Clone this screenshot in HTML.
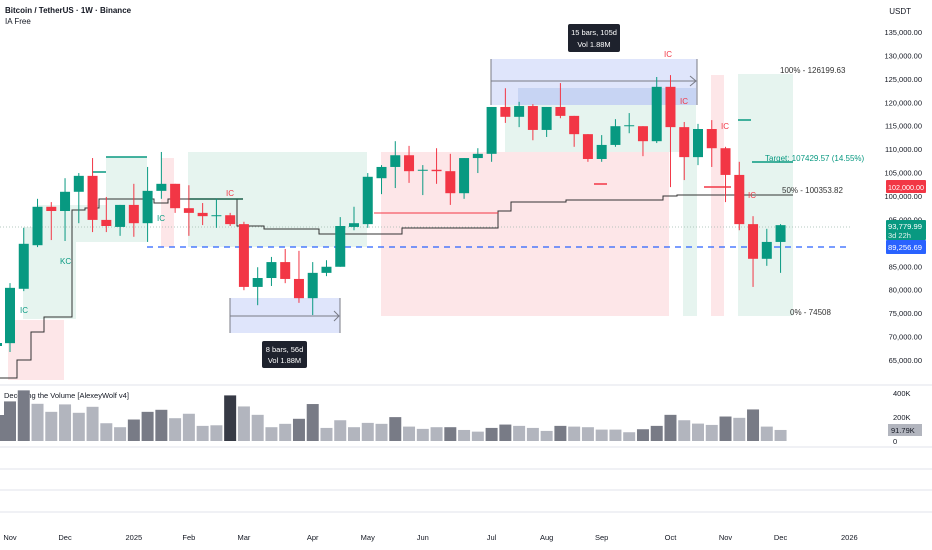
<!DOCTYPE html>
<html><head><meta charset="utf-8">
<style>
html,body{margin:0;padding:0;background:#fff;}
svg{display:block;font-family:"Liberation Sans",sans-serif;}
</style></head>
<body>
<svg id="chart" width="932" height="550" viewBox="0 0 932 550" xmlns="http://www.w3.org/2000/svg">
<g id="bg">
  <rect x="8" y="320" width="56" height="60" fill="#fde6e8"/>
  <rect x="23" y="227" width="53" height="92" fill="#e6f4ef"/>
  <rect x="37" y="205" width="110" height="37" fill="#e6f4ef"/>
  <rect x="106" y="157" width="41" height="48" fill="#e6f4ef"/>
  <rect x="161" y="158" width="13" height="89" fill="#fde6e8"/>
  <rect x="188" y="152" width="179" height="95" fill="#e6f4ef"/>
  <rect x="381" y="152" width="288" height="164" fill="#fde6e8"/>
  <rect x="505" y="105" width="191" height="47" fill="#e6f4ef"/>
  <rect x="683" y="150" width="14" height="166" fill="#e6f4ef"/>
  <rect x="711" y="75" width="13" height="241" fill="#fde6e8"/>
  <rect x="738" y="74" width="55" height="242" fill="#e6f4ef"/>
  <rect x="491" y="59" width="206" height="46" fill="#dfe5fb"/>
  <rect x="518" y="88" width="178" height="17" fill="#c7d4f3"/>
  <rect x="230" y="298" width="110" height="35" fill="#dfe5fb"/>
</g>
<g stroke="#787b86" fill="none" stroke-width="1">
  <line x1="491" y1="59" x2="491" y2="105"/><line x1="697" y1="59" x2="697" y2="105"/>
  <line x1="491" y1="81" x2="696" y2="81"/><polyline points="690,76 696,81 690,86"/>
  <line x1="230" y1="298" x2="230" y2="333"/><line x1="340" y1="298" x2="340" y2="333"/>
  <line x1="230" y1="316" x2="339" y2="316"/><polyline points="334,311 339,316 334,321"/>
</g>
<line x1="0" y1="227" x2="850" y2="227" stroke="#9fb8ae" stroke-width="0.8" stroke-dasharray="1,2"/>
<line x1="147" y1="247" x2="850" y2="247" stroke="#2962ff" stroke-width="1.2" stroke-dasharray="6,5"/>
<polyline fill="none" stroke="#333" stroke-width="1" points="0,378 17,378 17,360 31,360 31,332 44,332 44,317 72,317 72,210 85,210 85,208 99,208 99,199 154,199 154,203 168,203 168,199 237,199 237,226 264,226 264,229 319,229 319,234 402,234 402,228 498,228 498,211 511,211 511,202 566,202 566,200 663,200 663,196 677,196 677,195 793,195"/>
<g stroke-width="1.5">
  <line x1="374" y1="213" x2="498" y2="213" stroke="#f23645" stroke-width="1"/>
  <line x1="106" y1="157" x2="147" y2="157" stroke="#089981"/>
  <line x1="92" y1="172" x2="106" y2="172" stroke="#089981"/>
  <line x1="188" y1="199" x2="243" y2="199" stroke="#1b5e4a"/>
  <line x1="738" y1="120" x2="751" y2="120" stroke="#089981"/>
  <line x1="752" y1="162" x2="793" y2="162" stroke="#089981"/>
  <line x1="594" y1="184" x2="607" y2="184" stroke="#f23645"/>
  <line x1="704" y1="187" x2="731" y2="187" stroke="#f23645"/>
</g>
<rect x="-4" y="343" width="6" height="3" fill="#089981"/>
<g id="candles"></g>
<g font-size="8">
  <text x="226" y="196" fill="#f23645">IC</text>
  <text x="664" y="57" fill="#f23645">IC</text>
  <text x="680" y="104" fill="#f23645">IC</text>
  <text x="721" y="129" fill="#f23645">IC</text>
  <text x="748" y="198" fill="#f23645">IC</text>
  <text x="157" y="221" fill="#089981">IC</text>
  <text x="20" y="313" fill="#089981">IC</text>
  <text x="60" y="264" fill="#089981">KC</text>
</g>
<g font-size="8" fill="#333">
  <text x="780" y="73">100% - 126199.63</text>
  <text x="765" y="161" fill="#089981">Target: 107429.57 (14.55%)</text>
  <text x="782" y="193">50% - 100353.82</text>
  <text x="790" y="315">0% - 74508</text>
</g>
<g>
  <rect x="262" y="341" width="45" height="27" rx="2" fill="#1e222d"/>
  <text x="284.5" y="352" fill="#fff" font-size="7.5" text-anchor="middle">8 bars, 56d</text>
  <text x="284.5" y="363" fill="#fff" font-size="7.5" text-anchor="middle">Vol 1.88M</text>
</g>
<g>
  <rect x="568" y="24" width="52" height="28" rx="2" fill="#1e222d"/>
  <text x="594" y="35" fill="#fff" font-size="7.5" text-anchor="middle">15 bars, 105d</text>
  <text x="594" y="47" fill="#fff" font-size="7.5" text-anchor="middle">Vol 1.88M</text>
</g>
<text x="5" y="13" font-size="8" fill="#131722" font-weight="bold">Bitcoin / TetherUS · 1W · Binance</text>
<text x="5" y="24" font-size="8" fill="#131722">IA Free</text>
<g id="yaxis" font-size="7.5" fill="#131722" text-anchor="end"></g>
<text x="911" y="14" font-size="8" fill="#131722" text-anchor="end">USDT</text>
<g font-size="7.5">
  <rect x="886" y="180" width="40" height="13" fill="#f23645" rx="1"/>
  <text x="888" y="190" fill="#fff" textLength="36" lengthAdjust="spacingAndGlyphs">102,000.00</text>
  <rect x="886" y="220" width="40" height="20" fill="#089981" rx="1"/>
  <text x="888" y="229" fill="#fff" textLength="34" lengthAdjust="spacingAndGlyphs">93,779.99</text>
  <text x="888" y="238" fill="#e0f2ec">3d 22h</text>
  <rect x="886" y="240" width="40" height="14" fill="#2962ff" rx="1"/>
  <text x="888" y="250" fill="#fff" textLength="34" lengthAdjust="spacingAndGlyphs">89,256.69</text>
</g>
<line x1="0" y1="385" x2="932" y2="385" stroke="#e0e3eb"/>
<text x="4" y="398" font-size="7.5" fill="#131722">Decoding the Volume [AlexeyWolf v4]</text>
<rect x="-4" y="415" width="8" height="26" fill="#787b86"/>
<g id="vol"></g>
<g id="vaxis" font-size="7.5" fill="#131722"></g>
<rect x="888" y="424" width="34" height="12" fill="#b2b5be"/>
<text x="891" y="433" font-size="7.5" fill="#131722">91.79K</text>
<g stroke="#e0e3eb">
  <line x1="0" y1="447" x2="932" y2="447"/>
  <line x1="0" y1="469" x2="932" y2="469"/>
  <line x1="0" y1="490" x2="932" y2="490"/>
  <line x1="0" y1="512" x2="932" y2="512"/>
</g>
<g id="xaxis" font-size="7.5" fill="#131722" text-anchor="middle"></g>
</svg>
<script>
// price data in thousands (USDT), weekly bars
const opens  = [68.6,80.2,89.5,97.7,96.8,100.9,104.3,94.9,93.4,98.1,94.2,101.1,102.6,97.4,96.4,95.7,95.9,94.0,80.6,82.5,85.9,82.3,78.2,83.6,84.9,93.4,94.0,103.8,106.2,108.7,105.5,105.6,105.3,100.6,108.1,109.0,119.0,116.9,119.2,114.1,119.0,117.1,113.2,107.9,110.9,114.9,114.9,111.7,123.3,114.7,108.3,114.3,110.2,104.5,94.0,86.6,90.2];
const highs  = [81.4,93.2,99.4,98.7,103.8,104.9,108.1,99.8,98.1,102.6,106.2,109.4,102.6,102.3,98.5,99.4,96.4,94.5,84.8,87.0,88.7,88.3,85.9,86.3,95.5,97.7,104.9,106.6,111.7,110.7,106.6,110.2,109.0,108.1,110.2,119.0,123.0,120.1,119.6,119.0,124.1,117.1,113.2,113.0,116.4,117.7,114.9,125.4,125.8,115.8,115.4,116.2,110.5,107.3,95.7,93.0,94.0];
const lows   = [66.7,79.7,89.1,90.6,90.4,94.2,92.3,92.3,91.5,91.3,90.2,99.4,96.4,91.5,93.8,93.2,93.6,79.9,76.7,80.8,81.4,77.2,74.6,82.9,84.9,92.7,93.2,100.4,101.7,102.8,100.2,102.6,98.1,99.4,104.9,107.3,115.6,114.7,111.9,112.6,116.6,110.5,107.3,107.3,110.5,113.4,108.5,111.3,101.9,103.4,106.6,106.2,98.7,92.7,80.6,85.1,83.6];
const closes = [80.4,89.8,97.7,96.8,100.9,104.3,94.9,93.6,98.1,94.2,101.1,102.6,97.4,96.4,95.7,95.9,94.0,80.6,82.5,85.9,82.3,78.2,83.6,84.9,93.6,94.2,104.1,106.2,108.7,105.3,105.6,105.3,100.6,108.1,109.0,119.0,116.9,119.2,114.1,119.0,117.1,113.2,107.9,110.9,114.9,115.1,111.7,123.3,114.7,108.3,114.3,110.2,104.5,94.0,86.6,90.2,93.78];
// volume in thousands
const volumes = [330,422,310,243,305,235,285,148,115,179,243,260,190,227,126,131,380,288,218,115,143,185,308,109,173,115,151,143,199,120,101,115,115,92,78,109,137,126,109,84,126,120,115,95,95,73,98,126,218,173,145,134,204,193,263,120,92];
const volShade = [1,1,0,0,0,0,0,0,0,1,1,1,0,0,0,0,3,0,0,0,0,1,1,0,0,0,0,0,1,0,0,0,1,0,0,1,1,0,0,0,1,0,0,0,0,0,1,1,1,0,0,0,1,0,1,0,0];
const priceTicks = [135,130,125,120,115,110,105,100,95,90,85,80,75,70,65];
const volTicks = [400,200,0];
const volTickLabels = ["400K","200K","0"];
const timeLabels = ["Nov","Dec","2025","Feb","Mar","Apr","May","Jun","Jul","Aug","Sep","Oct","Nov","Dec","2026"];
const timeLabelBars = [0,4,9,13,17,22,26,30,35,39,43,48,52,56,61];

const NS="http://www.w3.org/2000/svg";
function xOf(i){return 10+i*13.76;}
function yOf(p){return 32+(135-p)/5*23.43;}
function vY(v){return 441-v/200*24;}
function mk(tag,attrs,parent){const e=document.createElementNS(NS,tag);for(const k in attrs)e.setAttribute(k,attrs[k]);parent.appendChild(e);return e;}

const cg=document.getElementById('candles');
opens.forEach((o,i)=>{
  const c=closes[i],up=c>=o,col=up?'#089981':'#f23645',x=xOf(i);
  const g=mk('g',{},cg);
  
  
  mk('line',{x1:x,x2:x,y1:yOf(highs[i]),y2:yOf(lows[i]),stroke:col,'stroke-width':1},g);
  const t=yOf(Math.max(o,c)),b=yOf(Math.min(o,c));
  mk('rect',{x:x-5,y:t,width:10,height:Math.max(1,b-t),fill:col},g);
});

const shades=['#b2b5be','#787b86','#5d606b','#363a45'];
const vg=document.getElementById('vol');
volumes.forEach((v,i)=>{
  const r=mk('rect',{x:xOf(i)-6,y:vY(v),width:12,height:441-vY(v),fill:shades[volShade[i]]},vg);
  
  
});
const va=document.getElementById('vaxis');
volTicks.forEach((v,i)=>{
  const t=mk('text',{x:893,y:vY(v)+3},va);t.textContent=volTickLabels[i];
  
  
});
const ya=document.getElementById('yaxis');
priceTicks.forEach(p=>{
  const t=mk('text',{x:922,y:yOf(p)+3},ya);
  t.textContent=(p*1000).toLocaleString('en-US')+'.00';
  
  
});
const xa=document.getElementById('xaxis');
timeLabels.forEach((l,i)=>{
  const t=mk('text',{x:xOf(timeLabelBars[i]),y:540},xa);t.textContent=l;
  
  
});
</script>
</body></html>
